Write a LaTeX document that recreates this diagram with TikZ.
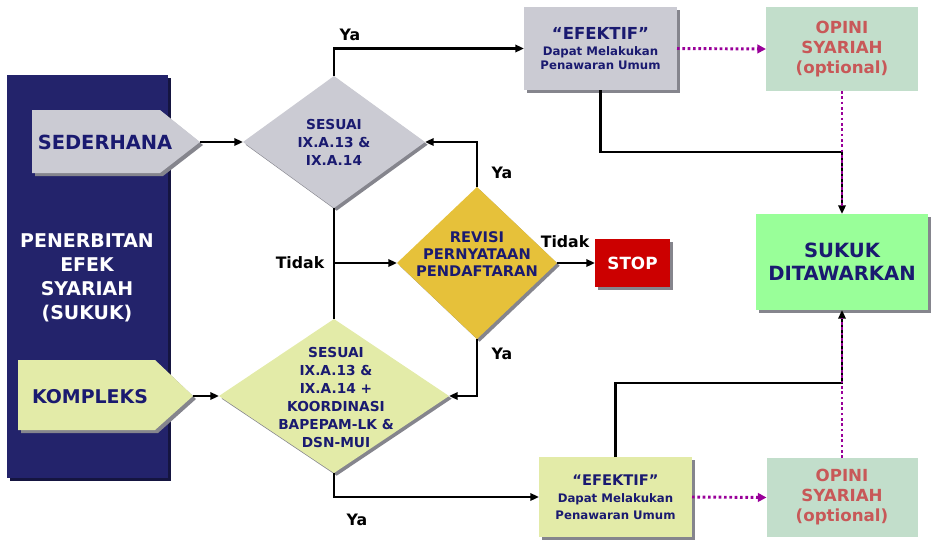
\documentclass[tikz,border=0pt]{standalone}
\usepackage{fontspec}
\setmainfont{DejaVu Sans}
\usetikzlibrary{arrows.meta,shapes.geometric,shadows}
\definecolor{navy}{HTML}{23236B}
\definecolor{navytext}{HTML}{1A1A70}
\definecolor{grayfill}{HTML}{CBCBD3}
\definecolor{limefill}{HTML}{E3EBA8}
\definecolor{goldfill}{HTML}{E6C13A}
\definecolor{stopred}{HTML}{CC0000}
\definecolor{mint}{HTML}{C2DECB}
\definecolor{opinitext}{HTML}{C85858}
\definecolor{sukukgreen}{HTML}{99FF99}
\definecolor{dotpurple}{HTML}{990099}
\definecolor{shadowgray}{HTML}{85858D}
\tikzset{
  shd/.style={drop shadow={shadow xshift=2pt,shadow yshift=-2pt,fill=shadowgray,opacity=1}},
  boxnode/.style={rectangle,inner sep=0pt,outer sep=0pt,shd,align=center,font=\bfseries},
  diam/.style={diamond,inner sep=0pt,outer sep=0pt,shd},
  dtext/.style={align=center,text=navytext,inner sep=0pt,font=\bfseries\fontsize{10.3}{13.5}\selectfont},
  conn/.style={draw=black,line width=1.6pt,-{Triangle[length=6.5pt,width=5.5pt]}},
  plain/.style={draw=black,line width=1.6pt},
  dotconn/.style={draw=dotpurple,line width=2.2pt,dash pattern=on 2pt off 2pt,-{Triangle[length=6.5pt,width=6.5pt]}},
  dotplain/.style={draw=dotpurple,line width=2.2pt,dash pattern=on 2pt off 2pt},
  lbl/.style={text=black,inner sep=0pt,font=\bfseries\fontsize{11.8}{13}\selectfont},
}
\begin{document}
\begin{tikzpicture}[x=0.75pt,y=-0.75pt]
\useasboundingbox (0,0) rectangle (933,540);
% left panel
\fill[black!40!navy] (9.5,77.5) rectangle (170.5,480.5);
\fill[navy] (7,75) rectangle (168,478);
\node[align=center,text=white,inner sep=0pt,font=\bfseries\fontsize{14.2}{18}\selectfont] (panel) at (87,278) {PENERBITAN\\EFEK\\SYARIAH\\(SUKUK)};
% pentagons
\fill[shadowgray] (35,113) -- (163,113) -- (203,145) -- (163,176) -- (35,176) -- cycle;
\fill[grayfill] (32,110) -- (160,110) -- (200,142) -- (160,173) -- (32,173) -- cycle;
\coordinate (sedtip) at (200,142);
\node[text=navytext,inner sep=0pt,font=\bfseries\fontsize{14.6}{17}\selectfont] (sed) at (105,142) {SEDERHANA};
\fill[shadowgray] (21,363) -- (158,363) -- (196,399) -- (158,433) -- (21,433) -- cycle;
\fill[limefill] (18,360) -- (155,360) -- (193,396) -- (155,430) -- (18,430) -- cycle;
\coordinate (komtip) at (193,396);
\node[text=navytext,inner sep=0pt,font=\bfseries\fontsize{14.2}{17}\selectfont] (kom) at (90,397) {KOMPLEKS};
% diamonds
\node[diam,fill=grayfill,minimum width=136.5pt,minimum height=99pt] (d1) at (334,142) {};
\node[dtext] (d1t) at (334,142) {SESUAI\\IX.A.13 \&\\IX.A.14};
\node[diam,fill=limefill,minimum width=172.5pt,minimum height=115.5pt] (d2) at (334,396) {};
\node[dtext] (d2t) at (336,397) {SESUAI\\IX.A.13 \&\\IX.A.14 +\\KOORDINASI\\BAPEPAM-LK \&\\DSN-MUI};
\node[diam,fill=goldfill,minimum width=120pt,minimum height=114pt] (rev) at (477,263) {};
\node[dtext,font=\bfseries\fontsize{11}{13}\selectfont] (revt) at (477,254) {REVISI\\PERNYATAAN\\PENDAFTARAN};
% boxes
\node[boxnode,fill=stopred,text=white,minimum width=56.25pt,minimum height=36pt,font=\bfseries\fontsize{12.6}{15}\selectfont] (stop) at (632.5,263) {STOP};
\node[boxnode,fill=grayfill,text=navytext,minimum width=114.75pt,minimum height=62.25pt,font=\bfseries\fontsize{8.8}{10.5}\selectfont] (ef1) at (600.5,48.5) {{\fontsize{12.4}{14}\selectfont “EFEKTIF”}\\[1pt]Dapat Melakukan\\Penawaran Umum};
\node[boxnode,fill=limefill,text=navytext,minimum width=114.75pt,minimum height=60pt,font=\bfseries\fontsize{8.8}{12.8}\selectfont] (ef2) at (615.5,497) {{\fontsize{11}{13}\selectfont “EFEKTIF”}\\Dapat Melakukan\\Penawaran Umum};
\node[rectangle,inner sep=0pt,outer sep=0pt,fill=mint,text=opinitext,align=center,minimum width=114pt,minimum height=63pt,font=\bfseries\fontsize{12.5}{15}\selectfont] (op1) at (842,49) {OPINI\\SYARIAH\\(optional)};
\node[rectangle,inner sep=0pt,outer sep=0pt,fill=mint,text=opinitext,align=center,minimum width=113.25pt,minimum height=59.25pt,font=\bfseries\fontsize{12.5}{15}\selectfont] (op2) at (842,497.5) {OPINI\\SYARIAH\\(optional)};
\node[boxnode,fill=sukukgreen,text=navytext,minimum width=129pt,minimum height=72pt,font=\bfseries\fontsize{14.7}{17.5}\selectfont] (suk) at (842,262) {SUKUK\\DITAWARKAN};
% connectors
\draw[conn] (sedtip) -- (d1.west);
\draw[conn] (komtip) -- (d2.west);
\draw[conn] (d1.north) |- (ef1.west);
\draw[plain] (d1.south) -- (d2.north);
\coordinate (tj) at (d1.south |- rev.west);
\draw[conn] (tj) -- (rev.west);
\draw[conn] (rev.north) |- (d1.east);
\draw[conn] (rev.south) |- (d2.east);
\draw[conn] (rev.east) -- (stop.west);
\draw[conn] (d2.south) |- (ef2.west);
\coordinate (j1) at (842,152);
\coordinate (j2) at (842,383);
\draw[conn] (ef1.south) |- (j1) -- (suk.north);
\draw[conn] (ef2.north) |- (j2) -- (suk.south);
\draw[dotconn] (ef1.east) -- (op1.west);
\draw[dotconn] (ef2.east) -- (op2.west);
\draw[dotplain,shorten >=6pt] (op1.south) -- (suk.north);
\draw[dotplain,shorten >=6pt] (op2.north) -- (suk.south);
% labels
\node[lbl] (l1) at (350,35) {Ya};
\node[lbl] (l2) at (300,263) {Tidak};
\node[lbl] (l3) at (502,173) {Ya};
\node[lbl] (l4) at (565,242) {Tidak};
\node[lbl] (l5) at (502,354) {Ya};
\node[lbl] (l6) at (357,520) {Ya};
\end{tikzpicture}
\end{document}
